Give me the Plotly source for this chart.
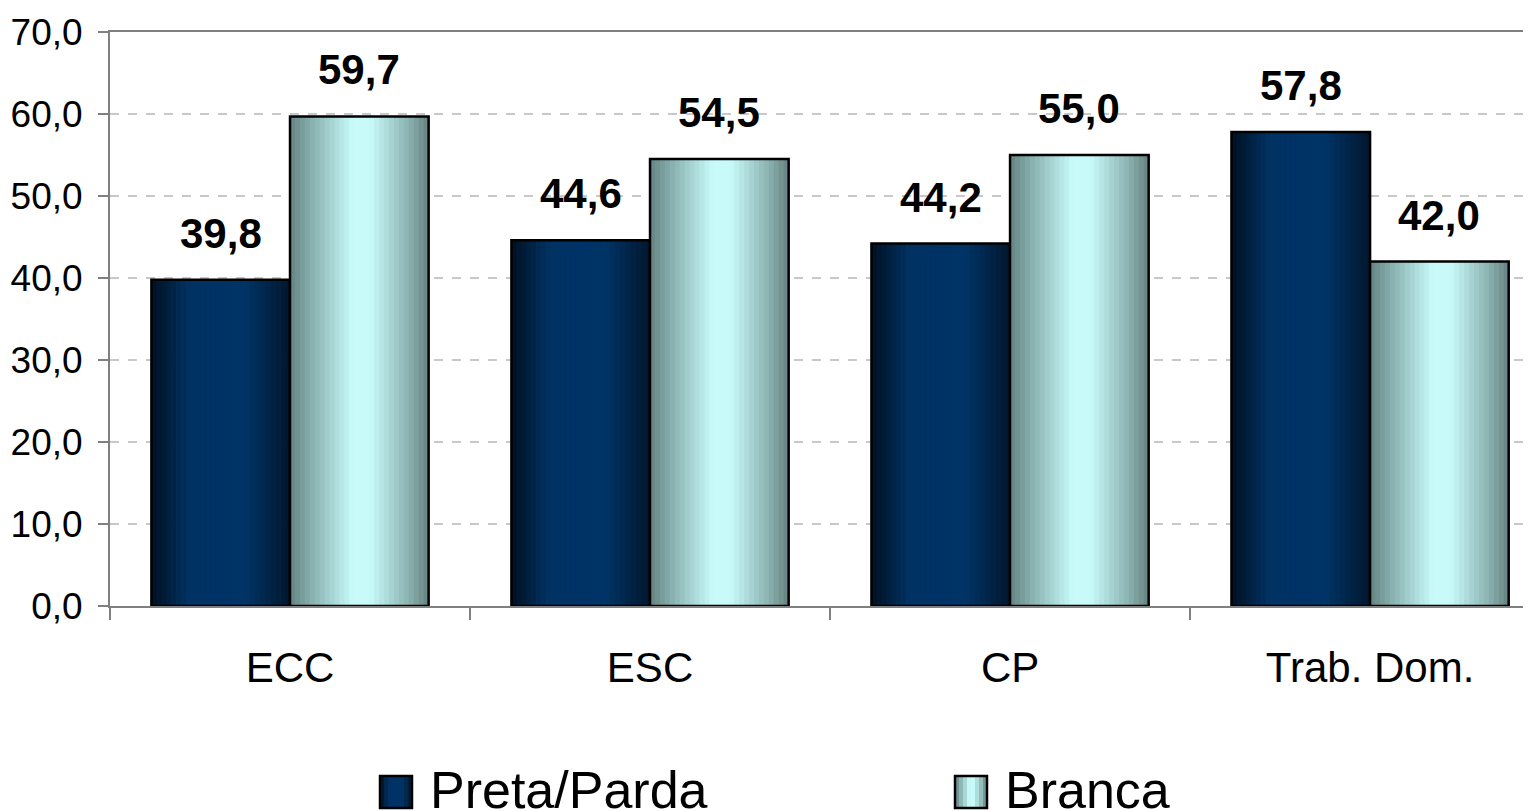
import plotly.graph_objects as go

# data
categories = ["ECC", "ESC", "CP", "Trab. Dom."]
preta_parda = [39.8, 44.6, 44.2, 57.8]
branca = [59.7, 54.5, 55.0, 42.0]
series_names = ["Preta/Parda", "Branca"]

FONT = "Arial, Liberation Sans, sans-serif"
BAR_W = 0.385
N_STRIPS = 28

# page has an 8px body margin, so the figure is drawn 8px smaller
W, H = 1523, 803
ML, MT, MB = 102, 24, 205
PW, PH = W - ML, H - MT - MB

# horizontal shading stops (position, rgb) to fake the cylinder gradient
dark_stops = [(0.0, (1, 16, 34)), (0.28, (0, 50, 100)), (0.68, (0, 51, 102)), (1.0, (1, 22, 44))]
light_stops = [(0.0, (100, 132, 130)), (0.18, (140, 182, 180)), (0.45, (200, 250, 250)),
               (0.58, (200, 250, 250)), (0.85, (140, 180, 178)), (1.0, (102, 130, 128))]


def shade(stops, t):
    for (t0, c0), (t1, c1) in zip(stops[:-1], stops[1:]):
        if t0 <= t <= t1:
            f = (t - t0) / (t1 - t0) if t1 > t0 else 0
            r, g, b = (round(a + (b_ - a) * f) for a, b_ in zip(c0, c1))
            return f"rgb({r},{g},{b})"
    return "rgb(%d,%d,%d)" % stops[-1][1]


def px_x(x):
    # figure pixel -> paper fraction
    return (x - ML) / PW


def px_y(y):
    return (H - MB - y) / PH


fig = go.Figure()

for values, stops, base in [(preta_parda, dark_stops, -BAR_W), (branca, light_stops, 0.0)]:
    step = BAR_W / N_STRIPS
    for i in range(N_STRIPS):
        t = (i + 0.5) / N_STRIPS
        fig.add_trace(go.Bar(
            x=list(range(len(categories))), y=values,
            offset=base + i * step, width=step * 1.15,
            marker=dict(color=shade(stops, t), line=dict(width=0)),
            showlegend=False, hoverinfo="skip"
        ))
    # outline on top
    fig.add_trace(go.Bar(
        x=list(range(len(categories))), y=values,
        offset=base, width=BAR_W,
        marker=dict(color="rgba(0,0,0,0)", line=dict(color="black", width=2.5)),
        showlegend=False
    ))

# value labels
for values, shift in [(preta_parda, -BAR_W / 2), (branca, BAR_W / 2)]:
    for i, v in enumerate(values):
        fig.add_annotation(
            x=i + shift, y=v, text=f"{v:.1f}".replace(".", ","),
            showarrow=False, yanchor="bottom", yshift=21,
            font=dict(family=FONT, size=42, color="black", weight="bold")
        )

# legend drawn by hand so the swatches can be large
legend_items = [(series_names[0], dark_stops, 372), (series_names[1], light_stops, 947)]
for name, stops, x0 in legend_items:
    sw = 32
    n = 8
    for i in range(n):
        fig.add_shape(type="rect", xref="paper", yref="paper",
                      x0=px_x(x0 + i * sw / n), x1=px_x(x0 + (i + 1) * sw / n + 0.5),
                      y0=px_y(800), y1=px_y(768),
                      fillcolor=shade(stops, (i + 0.5) / n), line=dict(width=0))
    fig.add_shape(type="rect", xref="paper", yref="paper",
                  x0=px_x(x0), x1=px_x(x0 + sw), y0=px_y(800), y1=px_y(768),
                  line=dict(color="black", width=2.5))
    fig.add_annotation(xref="paper", yref="paper", x=px_x(x0 + sw + 16), y=px_y(782),
                       text=name, showarrow=False, xanchor="left", yanchor="middle",
                       font=dict(family=FONT, size=52, color="black"))

fig.update_layout(
    width=W, height=H,
    margin=dict(l=ML, r=0, t=MT, b=MB),
    plot_bgcolor="white", paper_bgcolor="white",
    barmode="overlay",
    showlegend=False,
    separators=",.",
    font=dict(family=FONT, color="black"),
)
fig.update_xaxes(
    type="linear", range=[-0.5, 3.447],
    tickmode="array", tickvals=list(range(len(categories))), ticktext=categories,
    tickfont=dict(size=42), ticks="", ticklabelstandoff=24,
    showgrid=False, zeroline=False,
    showline=True, linecolor="#808080", linewidth=2, mirror=True,
    minor=dict(tickmode="array", tickvals=[-0.5, 0.5, 1.5, 2.5], ticks="outside",
               ticklen=12, tickcolor="#808080", tickwidth=2, showgrid=False),
)
fig.update_yaxes(
    range=[0, 70], dtick=10, tickformat=".1f",
    tickfont=dict(size=37), ticks="outside", ticklen=10, tickcolor="#808080", tickwidth=2,
    ticklabelstandoff=8,
    showgrid=True, gridcolor="#c8c8c8", griddash="dash", gridwidth=1.5,
    zeroline=False, showline=True, linecolor="#808080", linewidth=2,
    automargin=False,
)

fig.write_html("out.html")
